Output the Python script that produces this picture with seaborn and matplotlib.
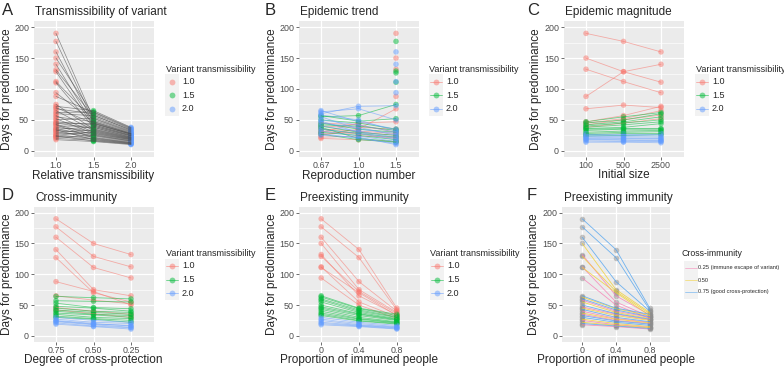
import numpy as np
import pandas as pd
import matplotlib
matplotlib.use("Agg")
import matplotlib.pyplot as plt
import seaborn as sns
from matplotlib.lines import Line2D
from matplotlib.patches import Rectangle
from matplotlib.ticker import MultipleLocator

# ---- data (days for predominance) ----
# A: one line per scenario, relative transmissibility 1.0 -> 1.5 -> 2.0
a_t10 = [190, 177, 160, 150, 140, 131, 128, 112, 110, 94, 88, 75, 72, 70, 68, 65, 62, 60, 57, 55, 52, 50,
         47, 45, 45, 43, 42, 40, 38, 36, 35, 34, 33, 31, 30, 28, 26, 25, 24, 23, 22, 20, 18]
a_t15 = [52, 48, 45, 58, 42, 55, 40, 50, 38, 46, 62, 35, 65, 44, 60, 33, 63, 57, 30, 47, 28, 53,
         42, 36, 44, 26, 21, 40, 32, 24, 38, 18, 29, 22, 34, 27, 20, 31, 16, 19, 25, 17, 15]
a_t20 = [30, 28, 27, 33, 25, 32, 24, 29, 22, 27, 36, 21, 38, 26, 35, 20, 37, 34, 19, 28, 18, 31,
         25, 22, 27, 16, 13, 24, 20, 15, 23, 12, 18, 14, 21, 17, 13, 19, 11, 12, 16, 11, 10]

# B: reproduction number 0.67 -> 1.0 -> 1.5
b_r067 = [22, 25, 28, 30, 35, 40, 45, 20, 32,
          55, 57, 40, 45, 35, 30, 42, 50, 38, 27,
          60, 63, 65, 58, 50, 45, 40, 35, 32, 28, 25, 55, 48]
b_r100 = [24, 35, 30, 45, 32, 38, 42, 18, 27,
          57, 48, 30, 35, 28, 25, 40, 45, 20, 18,
          72, 68, 47, 50, 42, 38, 32, 28, 24, 20, 22, 35, 30]
b_r150 = [22, 68, 25, 47, 28, 35, 30, 15, 20,
          75, 52, 25, 30, 22, 18, 33, 35, 15, 14,
          73, 50, 35, 32, 30, 25, 22, 18, 15, 12, 10, 28, 20]
b_hue = ['1.0'] * 9 + ['1.5'] * 10 + ['2.0'] * 13
b_extra_days = [190, 150, 132, 88, 177, 129, 126, 111, 160, 140, 112, 94]
b_extra_hue = ['1.0', '1.0', '1.0', '1.0', '1.5', '1.5', '1.5', '1.5', '2.0', '2.0', '2.0', '2.0']

# C: initial size 100 -> 500 -> 2500
c_n100 = [190, 150, 132, 88, 68, 47, 45, 42, 38,
          47, 45, 42, 40, 38, 36, 35, 33, 30, 28, 26, 24,
          28, 25, 23, 22, 20, 19, 18, 16, 14]
c_n500 = [177, 128, 112, 128, 74, 57, 52, 50, 45,
          55, 50, 47, 45, 42, 38, 36, 35, 32, 30, 28, 25,
          28, 25, 23, 21, 20, 18, 17, 15, 14]
c_n2500 = [160, 111, 94, 140, 70, 72, 65, 58, 52,
           62, 60, 55, 50, 47, 44, 36, 35, 33, 31, 28, 26,
           28, 24, 22, 20, 19, 17, 16, 15, 13]
c_hue = ['1.0'] * 9 + ['1.5'] * 12 + ['2.0'] * 9

# D: degree of cross-protection 0.75 -> 0.50 -> 0.25
d_c075 = [190, 177, 160, 140, 127, 88, 65, 46, 42,
          64, 57, 53, 48, 45, 42, 40, 37, 35, 32, 30,
          30, 27, 25, 24, 23, 21, 19]
d_c050 = [150, 129, 111, 75, 70, 72, 58, 40, 36,
          62, 56, 46, 45, 40, 38, 35, 34, 30, 28, 27,
          25, 22, 20, 19, 18, 16, 15]
d_c025 = [132, 112, 94, 65, 55, 50, 52, 35, 30,
          60, 55, 44, 40, 38, 35, 33, 30, 28, 25, 22,
          22, 20, 16, 17, 14, 13, 11]
d_hue = ['1.0'] * 9 + ['1.5'] * 11 + ['2.0'] * 7

# E/F: proportion of immuned people 0 -> 0.4 -> 0.8
e_p00 = [190, 177, 160, 150, 132, 129, 112, 111, 94,
         65, 63, 60, 58, 55, 50, 47, 45, 43, 40, 37, 35, 33,
         30, 27, 25, 22, 20, 18]
e_p04 = [140, 127, 88, 75, 65, 72, 55, 70, 50,
         45, 44, 42, 40, 38, 36, 35, 33, 30, 28, 27, 25, 24,
         22, 20, 18, 17, 16, 15]
e_p08 = [45, 42, 40, 38, 34, 36, 31, 33, 28,
         35, 33, 31, 30, 28, 27, 26, 25, 23, 22, 21, 20, 19,
         17, 15, 14, 13, 12, 11]
e_hue = ['1.0'] * 9 + ['1.5'] * 13 + ['2.0'] * 6
f_cross = ['0.75', '0.75', '0.75', '0.50', '0.25', '0.50', '0.25', '0.50', '0.25',
           '0.75', '0.50', '0.75', '0.25', '0.50', '0.75', '0.25', '0.50', '0.75', '0.25', '0.50', '0.25', '0.75',
           '0.75', '0.50', '0.25', '0.50', '0.75', '0.25']

hue_levels = ['1.0', '1.5', '2.0']
pal = {'1.0': '#F8766D', '1.5': '#00BA38', '2.0': '#619CFF'}
cross_levels = ['0.25', '0.50', '0.75']
cross_pal = {'0.25': '#F77FB4', '0.50': '#F2D02E', '0.75': '#4FA3F0'}
cross_labels = ['0.25 (immune escape of variant)', '0.50', '0.75 (good cross-protection)']


def to_long(cols, hue, hue_name='grp'):
    rows = []
    for i in range(len(cols[0])):
        for k in range(3):
            rows.append({'line': i, 'x': k, 'days': cols[k][i], hue_name: hue[i]})
    return pd.DataFrame(rows)


sns.set_theme(style="darkgrid", rc={'axes.facecolor': '#EBEBEB', 'grid.color': 'white'})
plt.rcParams['font.family'] = ['Liberation Sans', 'DejaVu Sans']

W, H = 784, 369
fig = plt.figure(figsize=(W / 100, H / 100), dpi=100)
fig.patch.set_facecolor('white')


def px_axes(x0, y0, x1, y1):
    return fig.add_axes([x0 / W, 1 - y1 / H, (x1 - x0) / W, (y1 - y0) / H])


def style(ax, rect, ticklabels, letter, title, xlabel, ylab_x, letter_x):
    x0, y0, x1, y1 = rect
    ax.set_xlim(-0.6, 2.6)
    ax.set_ylim(-10, 210)
    ax.set_xticks([0, 1, 2])
    ax.set_xticklabels(ticklabels)
    ax.set_yticks([0, 50, 100, 150, 200])
    ax.yaxis.set_minor_locator(MultipleLocator(25))
    ax.grid(which='major', color='white', lw=0.9)
    ax.grid(which='minor', axis='y', color='white', lw=0.45)
    ax.tick_params(which='major', bottom=True, left=True, length=2.2, width=0.5, color='#333333',
                   labelsize=6.4, labelcolor='#4D4D4D', pad=1.0)
    ax.tick_params(which='minor', length=0)
    ax.set_xlabel('')
    ax.set_ylabel('')
    for s in ax.spines.values():
        s.set_visible(False)
    base = 15.5 if y0 < 100 else 201
    fig.text(letter_x / W, 1 - (base - 0.5) / H, letter, fontsize=12, va='baseline', ha='left')
    fig.text((x0 + 1.5) / W, 1 - base / H, title, fontsize=8.5, va='baseline', ha='left')
    fig.text(((x0 + x1) / 2) / W, 1 - (y1 + 21.5) / H, xlabel, fontsize=8.5, va='baseline', ha='center')
    fig.text(ylab_x / W, 1 - ((y0 + y1) / 2) / H, 'Days for predominance', fontsize=8.5,
             rotation=90, va='center', ha='center')


def legend(x_title, y_title, title, labels, colors, x_key, x_text, rows, kind, fs_text=6.5, fs_title=6.5):
    fig.text(x_title / W, 1 - y_title / H, title, fontsize=fs_title, va='center', ha='left')
    fig.add_artist(Rectangle(((x_key - 7) / W, 1 - (rows[-1] + 7) / H), 14 / W,
                             (rows[-1] - rows[0] + 14) / H, transform=fig.transFigure,
                             facecolor='#F2F2F2', lw=0, zorder=0))
    for r, lab, c in zip(rows, labels, colors):
        if kind in ('line', 'both'):
            fig.add_artist(Line2D([(x_key - 6) / W, (x_key + 6) / W], [1 - r / H] * 2,
                                  transform=fig.transFigure, color=c, alpha=0.6, lw=0.6))
        if kind in ('point', 'both'):
            fig.add_artist(Line2D([x_key / W], [1 - r / H], marker='o', ms=4.2, color=c, alpha=0.5,
                                  mew=0, ls='', transform=fig.transFigure))
        fig.text(x_text / W, 1 - r / H, lab, fontsize=fs_text, va='center', ha='left')


top_rows = [81.5, 95, 108.5]
bot_rows = [266, 279.5, 293]
pt_kw = dict(s=16, alpha=0.5, linewidth=0, legend=False)
ln_kw = dict(units='line', estimator=None, legend=False, sort=False)

# ---- A ----
rect = (33.5, 21, 153.5, 157)
ax = px_axes(*rect)
df = to_long([a_t10, a_t15, a_t20], ['l'] * len(a_t10))
df['grp'] = df['x'].map({0: '1.0', 1: '1.5', 2: '2.0'})
sns.scatterplot(data=df, x='x', y='days', hue='grp', hue_order=hue_levels, palette=pal, ax=ax, **pt_kw)
sns.lineplot(data=df, x='x', y='days', color='#4D4D4D', alpha=0.65, lw=0.5, ax=ax, **ln_kw)
style(ax, rect, ['1.0', '1.5', '2.0'], 'A', 'Transmissibility of variant', 'Relative transmissibility', 7.5, 1.5)
legend(166, 69, 'Variant transmissibility', hue_levels, [pal[h] for h in hue_levels], 172, 182, top_rows, 'point')

# ---- B ----
rect = (298.5, 21, 418.5, 157)
ax = px_axes(*rect)
df = to_long([b_r067, b_r100, b_r150], b_hue)
extra = pd.DataFrame({'x': [2] * len(b_extra_days), 'days': b_extra_days, 'grp': b_extra_hue})
sns.scatterplot(data=pd.concat([df, extra]), x='x', y='days', hue='grp', hue_order=hue_levels,
                palette=pal, ax=ax, **pt_kw)
sns.lineplot(data=df, x='x', y='days', hue='grp', hue_order=hue_levels, palette=pal, alpha=0.55, lw=0.6,
             ax=ax, **ln_kw)
style(ax, rect, ['0.67', '1.0', '1.5'], 'B', 'Epidemic trend', 'Reproduction number', 272, 265)
legend(429, 69, 'Variant transmissibility', hue_levels, [pal[h] for h in hue_levels], 436, 446, top_rows, 'both')

# ---- C ----
rect = (563.5, 21, 683.5, 157)
ax = px_axes(*rect)
df = to_long([c_n100, c_n500, c_n2500], c_hue)
sns.scatterplot(data=df, x='x', y='days', hue='grp', hue_order=hue_levels, palette=pal, ax=ax, **pt_kw)
sns.lineplot(data=df, x='x', y='days', hue='grp', hue_order=hue_levels, palette=pal, alpha=0.55, lw=0.6,
             ax=ax, **ln_kw)
style(ax, rect, ['100', '500', '2500'], 'C', 'Epidemic magnitude', 'Initial size', 535.5, 527)
legend(696, 69, 'Variant transmissibility', hue_levels, [pal[h] for h in hue_levels], 702, 712, top_rows, 'both')

# ---- D ----
rect = (33.5, 206.5, 153.5, 342)
ax = px_axes(*rect)
df = to_long([d_c075, d_c050, d_c025], d_hue)
sns.scatterplot(data=df, x='x', y='days', hue='grp', hue_order=hue_levels, palette=pal, ax=ax, **pt_kw)
sns.lineplot(data=df, x='x', y='days', hue='grp', hue_order=hue_levels, palette=pal, alpha=0.55, lw=0.6,
             ax=ax, **ln_kw)
style(ax, rect, ['0.75', '0.50', '0.25'], 'D', 'Cross-immunity', 'Degree of cross-protection', 7.5, 1.5)
legend(166, 253, 'Variant transmissibility', hue_levels, [pal[h] for h in hue_levels], 172, 182, bot_rows, 'both')

# ---- E ----
rect = (298.5, 206.5, 419.5, 342)
ax = px_axes(*rect)
df = to_long([e_p00, e_p04, e_p08], e_hue)
sns.scatterplot(data=df, x='x', y='days', hue='grp', hue_order=hue_levels, palette=pal, ax=ax, **pt_kw)
sns.lineplot(data=df, x='x', y='days', hue='grp', hue_order=hue_levels, palette=pal, alpha=0.55, lw=0.6,
             ax=ax, **ln_kw)
style(ax, rect, ['0', '0.4', '0.8'], 'E', 'Preexisting immunity', 'Proportion of immuned people', 272, 265)
legend(430, 253, 'Variant transmissibility', hue_levels, [pal[h] for h in hue_levels], 437, 447, bot_rows, 'both')

# ---- F ----
rect = (562, 206.5, 670, 342)
ax = px_axes(*rect)
df = to_long([e_p00, e_p04, e_p08], f_cross)
sns.scatterplot(data=df, x='x', y='days', color='#8C8C8C', ax=ax, **pt_kw)
sns.lineplot(data=df, x='x', y='days', hue='grp', hue_order=cross_levels, palette=cross_pal, alpha=0.8,
             lw=0.6, ax=ax, **ln_kw)
style(ax, rect, ['0', '0.4', '0.8'], 'F', 'Preexisting immunity', 'Proportion of immuned people', 534.5, 527)
legend(682, 253, 'Cross-immunity', cross_labels, [cross_pal[c] for c in cross_levels], 691, 698,
       [268, 280, 292], 'line', fs_text=4.1, fs_title=6.3)

fig.savefig('out.png', dpi=100)
